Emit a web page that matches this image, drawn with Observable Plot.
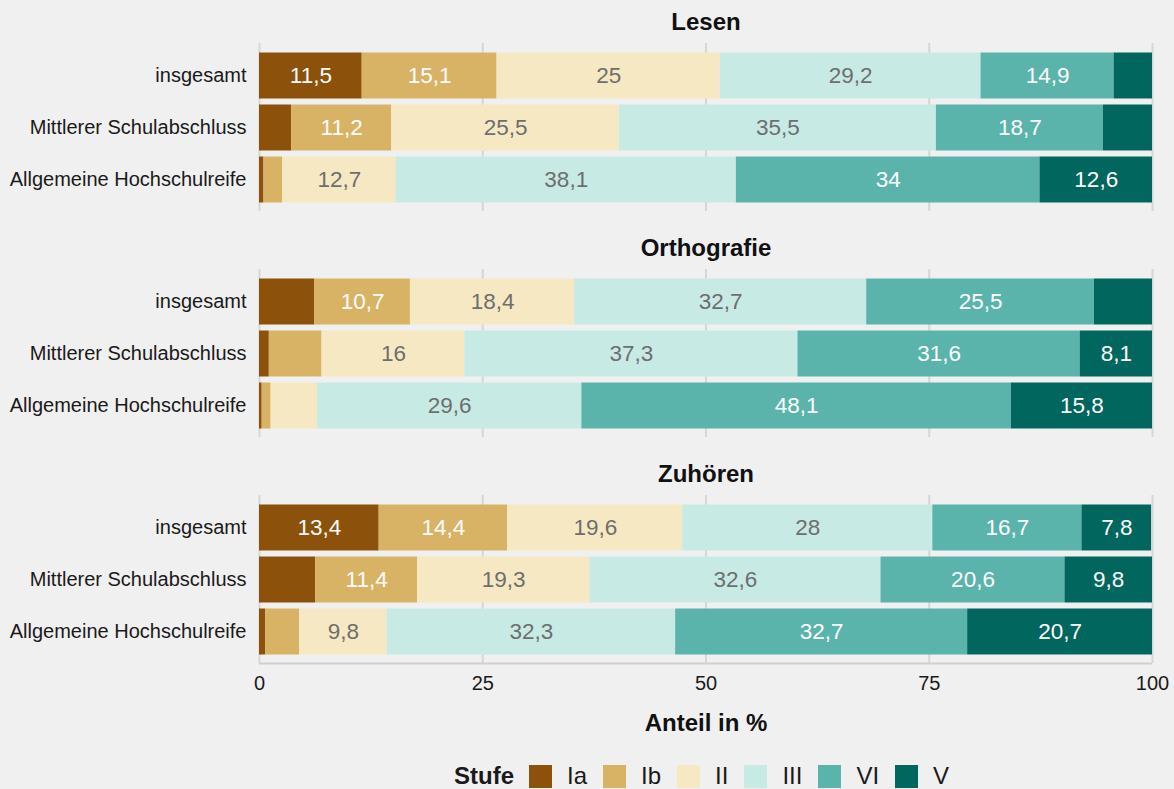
<!DOCTYPE html>
<html>
<head>
<meta charset="utf-8">
<script src="https://cdn.jsdelivr.net/npm/d3@7"></script>
<script src="https://cdn.jsdelivr.net/npm/@observablehq/plot@0.6"></script>
<style>
  html, body { margin: 0; padding: 0; background: #f0f0f0; }
  body { width: 1174px; height: 789px; position: relative; overflow: hidden;
         font-family: "Liberation Sans", Arial, Helvetica, sans-serif; }
  #chart { position: absolute; left: 0; top: 0; }
  #legend { position: absolute; left: 454px; top: 764px; height: 24px; display: flex; align-items: center;
            font-size: 24px; line-height: 24px; color: #1a1a1a; white-space: nowrap; }
  #legend .title { font-weight: bold; margin-right: 15px; }
  #legend .sw { width: 23px; height: 23px; margin-right: 15px; flex: none; }
  #legend .lab { margin-right: 16px; }
</style>
</head>
<body>
<div id="chart"></div>
<div id="legend"></div>
<script>
const stufen = ["Ia", "Ib", "II", "III", "VI", "V"];
const farben = ["#8c510a", "#d8b365", "#f6e8c3", "#c7eae5", "#5ab4ac", "#01665e"];
const bereiche = ["Lesen", "Orthografie", "Zuhören"];
const gruppen = ["insgesamt", "Mittlerer Schulabschluss", "Allgemeine Hochschulreife"];
const xTicks = [0, 25, 50, 75, 100];

// values per group (rows: gruppen), columns: stufen
const lesen = [
  [11.5, 15.1, 25, 29.2, 14.9, 4.3],
  [3.6, 11.2, 25.5, 35.5, 18.7, 5.5],
  [0.5, 2.1, 12.7, 38.1, 34, 12.6]
];
const orthografie = [
  [6.2, 10.7, 18.4, 32.7, 25.5, 6.5],
  [1.1, 5.9, 16, 37.3, 31.6, 8.1],
  [0.3, 1.0, 5.2, 29.6, 48.1, 15.8]
];
const zuhoeren = [
  [13.4, 14.4, 19.6, 28, 16.7, 7.8],
  [6.3, 11.4, 19.3, 32.6, 20.6, 9.8],
  [0.7, 3.8, 9.8, 32.3, 32.7, 20.7]
];
const werte = [lesen, orthografie, zuhoeren];

const rows = [];
bereiche.forEach((b, bi) => {
  gruppen.forEach((g, gi) => {
    stufen.forEach((s, si) => {
      rows.push({bereich: b, gruppe: g, stufe: s, wert: werte[bi][gi][si]});
    });
  });
});

const fmt = v => String(v).replace(".", ",");
const hell = new Set(["II", "III"]);
const minLabel = 7;

const font = '"Liberation Sans", Arial, Helvetica, sans-serif';

const chart = Plot.plot({
  width: 1174,
  height: 740,
  marginLeft: 259,
  marginRight: 22,
  marginTop: 42.5,
  marginBottom: 77.5,
  style: {background: "#f0f0f0", fontFamily: font, fontSize: "20px", color: "#1a1a1a"},
  x: {domain: [0, 100], label: null},
  y: {domain: gruppen, paddingInner: 0.124, paddingOuter: 0.162, label: null},
  fy: {domain: bereiche, paddingInner: 0.257, paddingOuter: 0, axis: null, label: null},
  color: {domain: stufen, range: farben},
  marks: [
    Plot.ruleX(xTicks, {stroke: "#d6d6d6", strokeWidth: 2}),
    Plot.barX(rows, Plot.stackX({x: "wert", y: "gruppe", fy: "bereich", fill: "stufe"})),
    Plot.text(rows, Plot.stackX({
      x: "wert", y: "gruppe", fy: "bereich",
      text: d => (!hell.has(d.stufe) && d.wert >= minLabel) ? fmt(d.wert) : "",
      fill: "white", fontSize: 22.5
    })),
    Plot.text(rows, Plot.stackX({
      x: "wert", y: "gruppe", fy: "bereich",
      text: d => (hell.has(d.stufe) && d.wert >= minLabel) ? fmt(d.wert) : "",
      fill: "#6e6e6e", fontSize: 22.5
    })),
    Plot.ruleY([{b: "Zuhören", g: "Allgemeine Hochschulreife"}], {
      y: "g", fy: "b", x1: 0, x2: 100, dy: 31.5, stroke: "#d0d0d0", strokeWidth: 2
    }),
    Plot.text(bereiche, {
      fy: d => d, text: d => d, frameAnchor: "top", lineAnchor: "middle", dy: -21.5,
      fontWeight: "bold", fontSize: 24, fill: "#111"
    }),
    Plot.text([{b: "Zuhören"}], {
      fy: "b", text: () => "Anteil in %", frameAnchor: "bottom", lineAnchor: "middle", dy: 59.5,
      fontWeight: "bold", fontSize: 24, fill: "#111"
    }),
    Plot.axisY({tickSize: 0, tickPadding: 13, fontSize: 20, fill: "#1a1a1a", label: null}),
    Plot.axisX({ticks: xTicks, tickSize: 0, tickPadding: 12.5, fontSize: 20, fill: "#1a1a1a", label: null})
  ]
});
document.getElementById("chart").appendChild(chart);

// legend
const legend = document.getElementById("legend");
const t = document.createElement("span");
t.className = "title";
t.textContent = "Stufe";
legend.appendChild(t);
stufen.forEach((s, i) => {
  const sw = document.createElement("span");
  sw.className = "sw";
  sw.style.background = farben[i];
  legend.appendChild(sw);
  const lab = document.createElement("span");
  lab.className = "lab";
  lab.textContent = s;
  legend.appendChild(lab);
});
</script>
</body>
</html>
